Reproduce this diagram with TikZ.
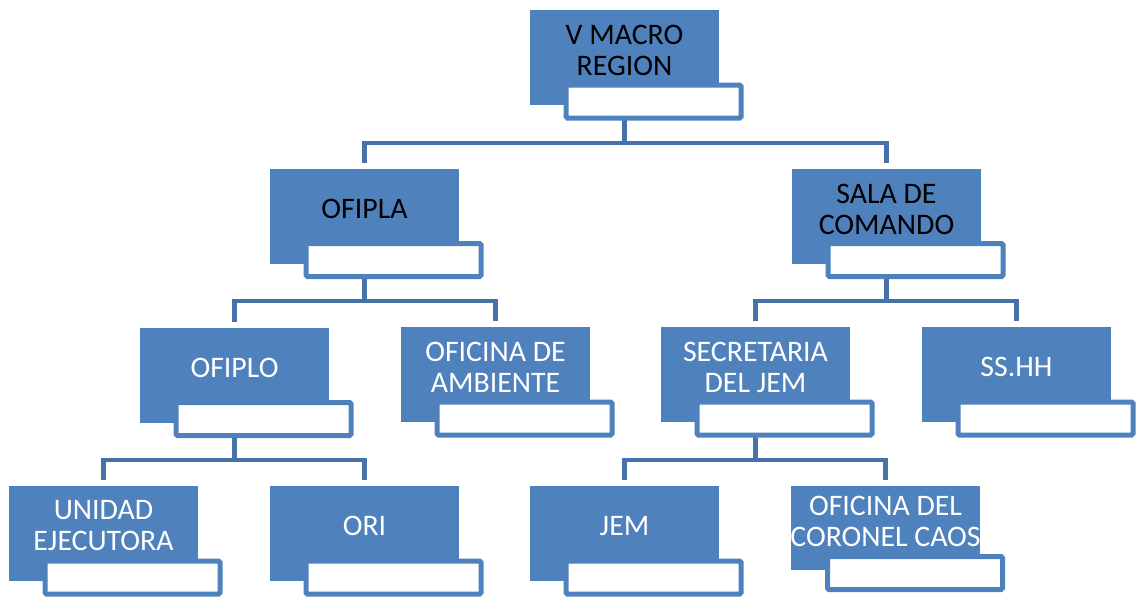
\documentclass[tikz,border=0pt]{standalone}
\usepackage{fontspec}
\setmainfont{Carlito}
\usetikzlibrary{calc,backgrounds}
\definecolor{boxblue}{HTML}{4F81BD}
\definecolor{linkblue}{HTML}{4672A8}
\tikzset{
  bluebox/.style={fill=boxblue,draw=none,inner sep=0pt,outer sep=0pt,minimum width=189pt,minimum height=95pt,anchor=north west},
  whitebox/.style={fill=white,draw=boxblue,line width=5pt,rounded corners=1.5pt,inner sep=0pt,outer sep=0pt,minimum width=175pt,minimum height=33pt,anchor=north west},
  lbl/.style={inner sep=0pt,align=center,font=\fontsize{29.8}{31}\selectfont},
  conn/.style={draw=linkblue,line width=4.5pt,line join=miter}
}
\newcommand\orgunit[6]{% name, x, y, text, text colour, white-box y offset
  \node[bluebox] (#1) at (#2,#3) {};
  \node[whitebox] (#1w) at ($(#2,#3)+(36,#6)$) {};
  \node[lbl,text=#5] (#1t) at ($(#1.north)+(0,40)$) {#4};
}
\begin{document}
\begin{tikzpicture}[x=1pt,y=-1pt]
\useasboundingbox (0,0) rectangle (1147,597);
\orgunit{vm}{530}{10}{V MACRO\\REGION}{black}{75}
\orgunit{ofipla}{270}{169}{OFIPLA}{black}{74.5}
\orgunit{sala}{792}{169}{SALA DE\\COMANDO}{black}{74.5}
\orgunit{ofiplo}{140}{328}{OFIPLO}{white}{74.5}
\orgunit{amb}{401}{327}{OFICINA DE\\AMBIENTE}{white}{75}
\orgunit{sec}{661}{327}{SECRETARIA\\DEL JEM}{white}{75}
\orgunit{ss}{922}{327}{SS.HH}{white}{75}
\orgunit{ue}{9}{486}{UNIDAD\\EJECUTORA}{white}{75}
\orgunit{ori}{270}{486}{ORI}{white}{75}
\orgunit{jem}{530}{486}{JEM}{white}{75}
% shorter unit
\node[bluebox,minimum height=84pt] (caos) at (791,486) {};
\node[whitebox] (caosw) at (827.5,556.5) {};
\node[lbl,text=white] (caost) at ($(caos.north)+(0,35.5)$) {OFICINA DEL\\CORONEL CAOS};
% bus levels
\coordinate (bus1) at (0,143);
\coordinate (bus2) at (0,301);
\coordinate (bus3) at (0,460);
\begin{scope}[on background layer]
\draw[conn] (vm.south) -- (bus1 -| vm.south);
\draw[conn] ([yshift=6pt]ofipla.north) |- (bus1 -| vm.south) -| ([yshift=6pt]sala.north);
\draw[conn] (ofipla.south) -- (bus2 -| ofipla.south);
\draw[conn] ([yshift=6pt]ofiplo.north) |- (bus2 -| ofipla.south) -| ([yshift=6pt]amb.north);
\draw[conn] (sala.south) -- (bus2 -| sala.south);
\draw[conn] ([yshift=6pt]sec.north) |- (bus2 -| sala.south) -| ([yshift=6pt]ss.north);
\draw[conn] (ofiplo.south) -- (bus3 -| ofiplo.south);
\draw[conn] ([yshift=6pt]ue.north) |- (bus3 -| ofiplo.south) -| ([yshift=6pt]ori.north);
\draw[conn] (sec.south) -- (bus3 -| sec.south);
\draw[conn] ([yshift=6pt]jem.north) |- (bus3 -| sec.south) -| ([yshift=6pt]caos.north);
\end{scope}
\end{tikzpicture}
\end{document}
